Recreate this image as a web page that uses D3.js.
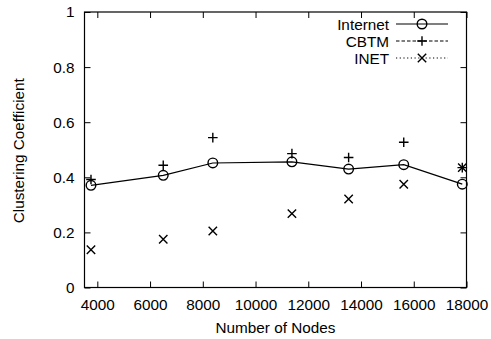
<!DOCTYPE html>
<html>
<head>
<meta charset="utf-8">
<script src="https://cdn.jsdelivr.net/npm/d3@7"></script>
<style>
  html, body { margin: 0; padding: 0; background: #fff; }
  svg text { font-family: "Liberation Sans", Arial, Helvetica, sans-serif; fill: #000; }
</style>
</head>
<body>
<svg id="chart" width="491" height="339"></svg>
<script>
// Network sizes (number of nodes) for each measured topology snapshot
const nodes = [3760, 6500, 8380, 11380, 13530, 15620, 17840];
// Clustering coefficient per model
const internet = [0.371, 0.407, 0.452, 0.456, 0.430, 0.446, 0.375];
const cbtm     = [0.392, 0.444, 0.544, 0.486, 0.472, 0.527, 0.435];
const inet     = [0.137, 0.175, 0.205, 0.268, 0.321, 0.375, 0.435];

const xTicks = [4000, 6000, 8000, 10000, 12000, 14000, 16000, 18000];
const yTicks = [0, 0.2, 0.4, 0.6, 0.8, 1];
const yTickLabels = ["0", "0.2", "0.4", "0.6", "0.8", "1"];
const seriesNames = ["Internet", "CBTM", "INET"];

const svg = d3.select("#chart");
const m = { left: 84.5, right: 466.5, top: 12, bottom: 287.5 };

const x = d3.scaleLinear().domain([3514, 18000]).range([m.left, m.right]);
const y = d3.scaleLinear().domain([0, 1]).range([m.bottom, m.top]);

const fontSize = 15.3;
const tickLen = 6;

// Axes: inward ticks on all four sides, labels on bottom/left
const gx = svg.append("g").attr("transform", `translate(0,${m.bottom})`)
  .call(d3.axisBottom(x).tickValues(xTicks).tickSize(-tickLen).tickPadding(12).tickFormat(d3.format("d")));
const gxTop = svg.append("g").attr("transform", `translate(0,${m.top})`)
  .call(d3.axisTop(x).tickValues(xTicks).tickSize(-tickLen).tickFormat(""));
const gy = svg.append("g").attr("transform", `translate(${m.left},0)`)
  .call(d3.axisLeft(y).tickValues(yTicks).tickSize(-tickLen).tickPadding(10)
    .tickFormat((d, i) => yTickLabels[i]));
const gyRight = svg.append("g").attr("transform", `translate(${m.right},0)`)
  .call(d3.axisRight(y).tickValues(yTicks).tickSize(-tickLen).tickFormat(""));

[gx, gxTop, gy, gyRight].forEach(g => {
  g.select(".domain").remove();
  g.selectAll("line").attr("stroke", "#000").attr("stroke-width", 1);
  g.selectAll("text").style("font-size", fontSize + "px")
    .style("font-family", '"Liberation Sans", Arial, sans-serif');
});

// Frame
svg.append("rect")
  .attr("x", m.left).attr("y", m.top)
  .attr("width", m.right - m.left).attr("height", m.bottom - m.top)
  .attr("fill", "none").attr("stroke", "#000").attr("stroke-width", 1.2);

// Axis titles
svg.append("text")
  .attr("x", (m.left + m.right) / 2).attr("y", 332.5)
  .attr("text-anchor", "middle").style("font-size", fontSize + "px")
  .text("Number of Nodes");
svg.append("text")
  .attr("transform", `translate(24,${(m.top + m.bottom) / 2 + 1}) rotate(-90)`)
  .attr("text-anchor", "middle").style("font-size", fontSize + "px")
  .text("Clustering Coefficient");

// Point markers
function drawCircle(g, cx, cy) {
  g.append("circle").attr("cx", cx).attr("cy", cy).attr("r", 4.8)
    .attr("fill", "none").attr("stroke", "#000").attr("stroke-width", 1.4);
}
function drawPlus(g, cx, cy) {
  const s = 4.8;
  g.append("path").attr("d", `M${cx - s},${cy}H${cx + s}M${cx},${cy - s}V${cy + s}`)
    .attr("stroke", "#000").attr("stroke-width", 1.4).attr("fill", "none");
}
function drawCross(g, cx, cy) {
  const s = 4.2;
  g.append("path").attr("d", `M${cx - s},${cy - s}L${cx + s},${cy + s}M${cx - s},${cy + s}L${cx + s},${cy - s}`)
    .attr("stroke", "#000").attr("stroke-width", 1.4).attr("fill", "none");
}

const plot = svg.append("g");

// Internet: solid line with circles
const line = d3.line().x((d, i) => x(nodes[i])).y(d => y(d));
plot.append("path").datum(internet).attr("d", line)
  .attr("fill", "none").attr("stroke", "#000").attr("stroke-width", 1.2);
internet.forEach((v, i) => drawCircle(plot, x(nodes[i]), y(v)));

// CBTM and INET: markers only
cbtm.forEach((v, i) => drawPlus(plot, x(nodes[i]), y(v)));
inet.forEach((v, i) => drawCross(plot, x(nodes[i]), y(v)));

// Legend
const legend = svg.append("g");
const legendRows = [
  { name: seriesNames[0], dash: null, mark: drawCircle },
  { name: seriesNames[1], dash: "3.5,2", mark: drawPlus },
  { name: seriesNames[2], dash: "1.2,2.5", mark: drawCross }
];
legendRows.forEach((r, i) => {
  const cy = 24 + i * 17;
  legend.append("text").attr("x", 389).attr("y", cy + 5.5)
    .attr("text-anchor", "end").style("font-size", fontSize + "px").text(r.name);
  const ln = legend.append("line").attr("x1", 396).attr("x2", 448)
    .attr("y1", cy).attr("y2", cy).attr("stroke", "#000").attr("stroke-width", 1.2);
  if (r.dash) ln.attr("stroke-dasharray", r.dash);
  r.mark(legend, 422, cy);
});
</script>
</body>
</html>
